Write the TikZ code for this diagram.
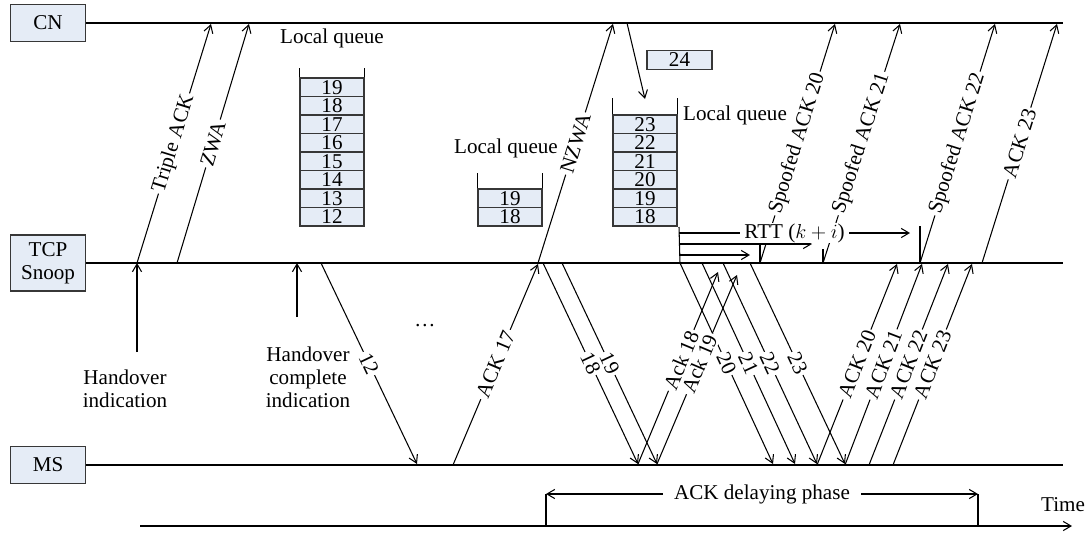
\documentclass[tikz,border=0pt]{standalone}
\usepackage{fontspec}
\setmainfont{Liberation Serif}
\usetikzlibrary{arrows.meta}
\definecolor{boxblue}{RGB}{229,236,246}
\definecolor{boxline}{RGB}{55,55,55}

\begin{document}
\begin{tikzpicture}[x=0.025cm,y=-0.025cm,line width=0.75pt,
                   >={Straight Barb[length=5.5pt,width=6.5pt]},
                   every node/.style={font=\fontsize{15}{16.5}\selectfont},
                   entity/.style={draw=boxline,fill=boxblue,minimum width=1.875cm,inner sep=0pt,align=center},
                   cell/.style={draw=boxline,fill=boxblue,minimum width=1.6cm,minimum height=0.4625cm,inner sep=0pt},
                   msg/.style={sloped,fill=white,inner sep=1.5pt}]
\useasboundingbox (0,0) rectangle (1088,535);
% entities and their lines
\node[entity,minimum height=0.925cm] (cn) at (48,23) {CN};
\node[entity,minimum height=1.4cm] (tcp) at (48,263) {TCP\\Snoop};
\node[entity,minimum height=0.925cm] (ms) at (48,465) {MS};
\coordinate (cnend) at (1063,23);
\coordinate (tcpend) at (1063,263);
\coordinate (msend) at (1063,465);
\draw (cn.east) -- (cnend);
\draw (tcp.east) -- (tcpend);
\draw (ms.east) -- (msend);

% local queues
\node (qalbl) at (332,38) {Local queue};
\foreach \n [count=\k] in {19,18,17,16,15,14,13,12}{
  \node[cell] (qa\k) at (332,{78+18.5*(\k-0.5)}) {\n};
}
\draw (qa1.north west) -- ++(0,-9);
\draw (qa1.north east) -- ++(0,-9);

\node[anchor=east] (qblbl) at (563,148) {Local queue};
\foreach \n [count=\k] in {19,18}{
  \node[cell] (qb\k) at (510,{189+18.5*(\k-0.5)}) {\n};
}
\draw (qb1.north west) -- ++(0,-15);
\draw (qb1.north east) -- ++(0,-15);

\node[anchor=west] (qclbl) at (678,115) {Local queue};
\foreach \n [count=\k] in {23,22,21,20,19,18}{
  \node[cell] (qc\k) at (645,{115+18.5*(\k-0.5)}) {\n};
}
\draw (qc1.north west) -- ++(0,-16);
\draw (qc1.north east) -- ++(0,-16);
\node[cell,minimum width=1.625cm] (p24) at (679.5,60) {24};
\coordinate (cndown) at (627,23);
\coordinate (qctop) at (645,99);
\draw[->] (cndown) -- (qctop);

% handover indications
\coordinate (hi) at (137,352);
\coordinate (hitop) at (137,263);
\draw[->] (hi) -- (hitop);
\node[align=center] (hilbl) at (125,389) {Handover\\indication};
\coordinate (hc) at (297,317);
\coordinate (hctop) at (297,263);
\draw[->] (hc) -- (hctop);
\node[align=center] (hclbl) at (308,377) {Handover\\complete\\indication};
\node (dots) at (425,326) {\ldots};

% TCP Snoop -> CN
\foreach \a/\b/\t [count=\i] in {137/211/Triple ACK,177/249/ZWA,538/613/NZWA,760/835/Spoofed ACK 20,
                                 823/900/Spoofed ACK 21,920/995/Spoofed ACK 22,982/1057/ACK 23}{
  \coordinate (up\i) at (\a,263);
  \coordinate (cn\i) at (\b,24);
  \draw[->] (up\i) -- node[msg] (upl\i) {\t} (cn\i);
}
% TCP Snoop -> MS
\foreach \a/\b/\t [count=\i] in {321/417/12,543/638/18,562/657/19,680/773/20,702/795/21,723/817/22,750/845/23}{
  \coordinate (dn\i) at (\a,263);
  \coordinate (ms\i) at (\b,464);
  \draw[->] (dn\i) -- node[msg] (dnl\i) {\t} (ms\i);
}
% MS -> TCP Snoop
\foreach \a/\b/\t [count=\i] in {453/538/ACK 17,817/897/ACK 20,845/922/ACK 21,869/948/ACK 22,893/972/ACK 23}{
  \coordinate (ak\i) at (\a,465);
  \coordinate (tp\i) at (\b,264);
  \draw[->] (ak\i) -- node[msg] (akl\i) {\t} (tp\i);
}
\coordinate (a18) at (718,272);
\coordinate (a19) at (737,275);
\draw[->] (ms2) -- node[msg,pos=0.54] (a18l) {Ack 18} (a18);
\draw[->] (ms3) -- node[msg,pos=0.53] (a19l) {Ack 19} (a19);

% round trip times
\coordinate (rt) at (679,227);
\draw (rt) -- (dn4);
\coordinate (r1s) at (679,255);
\coordinate (r1e) at (750,255);
\coordinate (r2s) at (679,244);
\coordinate (r2e) at (812,244);
\coordinate (r3s) at (679,233);
\coordinate (r3e) at (910,233);
\draw[->] (r1s) -- (r1e);
\draw[->] (r2s) -- (r2e);
\draw[->] (r3s) -- node[fill=white,inner ysep=0pt,inner xsep=3pt] (rttlbl) {RTT ($k+i$)} (r3e);
\coordinate (tk1) at (760,244);
\coordinate (tk2) at (823,249);
\coordinate (tk3) at (920,226);
\draw (tk1) -- (up4);
\draw (tk2) -- (up5);
\draw (tk3) -- (up6);

% time axis
\coordinate (t0) at (140,526);
\coordinate (t1) at (1072,526);
\draw[->] (t0) -- (t1);
\node (timelbl) at (1063,505) {Time};
\coordinate (d0) at (546,526);
\coordinate (d1) at (546,494);
\coordinate (d2) at (978,494);
\coordinate (d3) at (978,526);
\draw (d0) -- (d1);
\draw (d3) -- (d2);
\draw[<->] (d1) -- node[fill=white,inner xsep=8pt] (dlbl) {ACK delaying phase} (d2);
\end{tikzpicture}
\end{document}
